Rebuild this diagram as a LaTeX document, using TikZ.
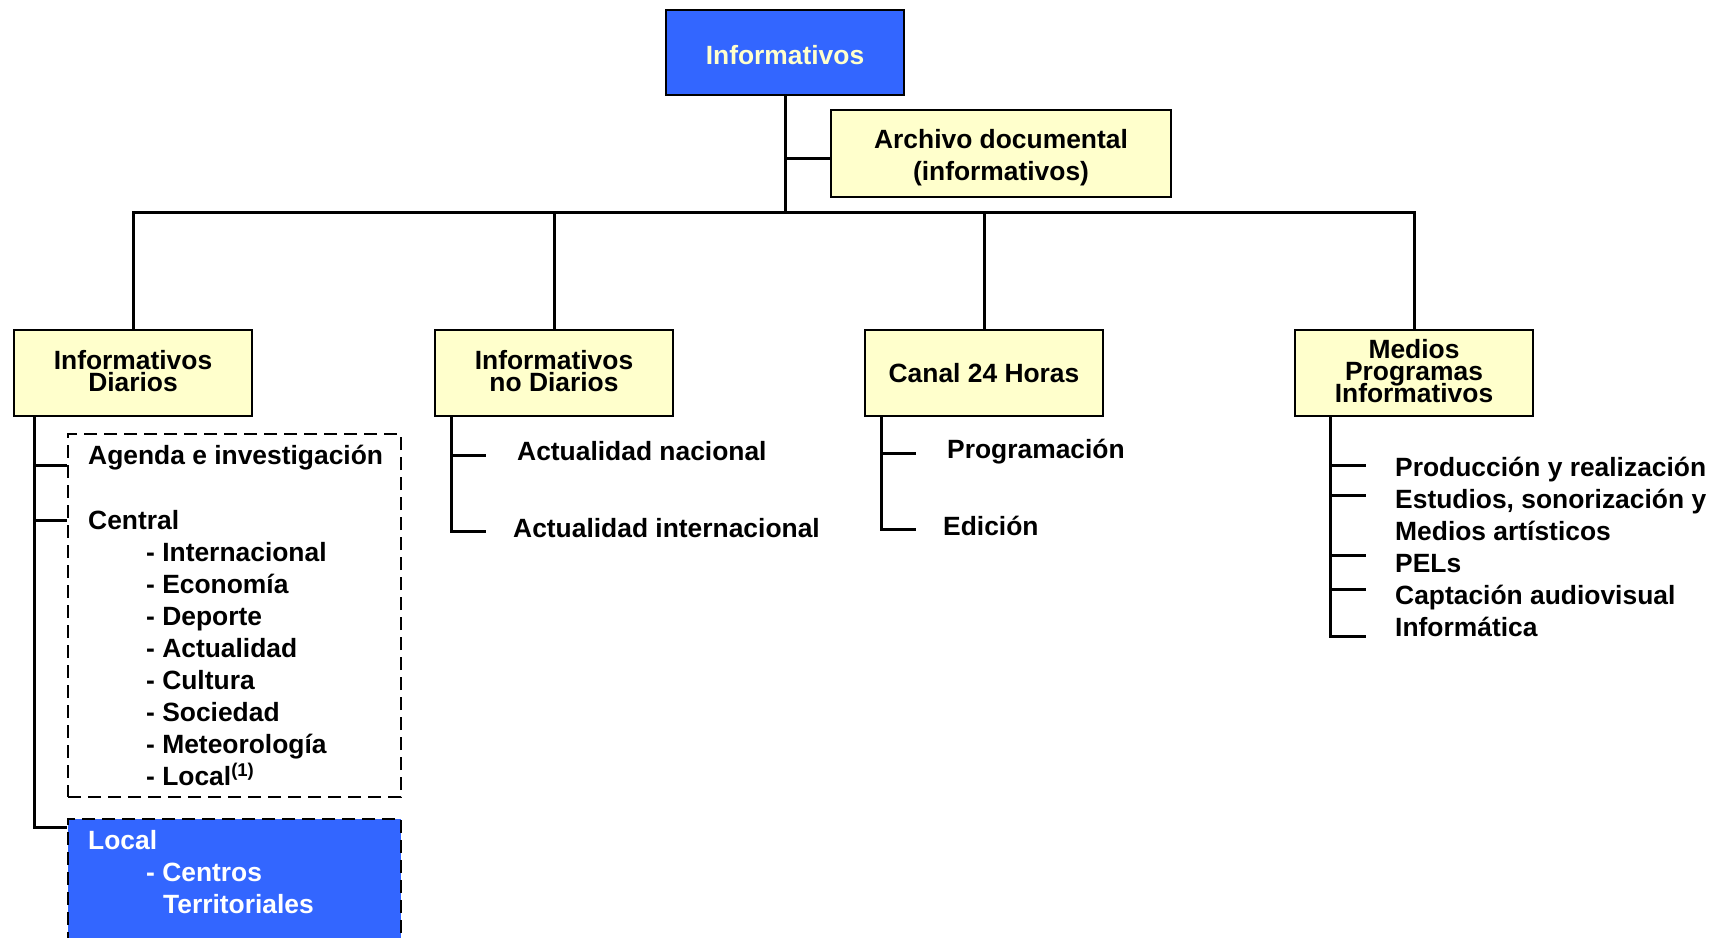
\documentclass[tikz,border=0pt]{standalone}
\usepackage{fontspec}
\setmainfont{Liberation Sans}
\definecolor{boxyellow}{HTML}{FFFFCC}
\definecolor{boxblue}{HTML}{3366FF}
\newcommand{\tightls}{\setlength{\lineskiplimit}{-50pt}}
\newcommand{\dn}{\rule[-4.5pt]{0pt}{4.5pt}}
\begin{document}
\begin{tikzpicture}[x=1pt,y=-1pt,
  conn/.style={line width=3pt},
  box/.style={draw, line width=2.5pt, fill=boxyellow, minimum width=238pt, minimum height=86pt, inner sep=0pt, align=center, font=\fontsize{26.4}{22}\selectfont\bfseries\tightls},
  lbl/.style={anchor=base west, inner sep=0pt, font=\fontsize{26.4}{32}\selectfont\bfseries},
  dbox/.style={draw, dash pattern=on 13pt off 7pt, line width=2.5pt, inner sep=0pt}]
\useasboundingbox (0,0) rectangle (1724,937);
\clip (0,0) rectangle (1724,937);

% top level
\node[box, fill=boxblue, text=boxyellow, minimum height=85pt] (top) at (785,52.5) {\rule{0pt}{24pt}Informativos};
\node[box, minimum width=340pt, minimum height=87pt, font=\fontsize{26.4}{32}\selectfont\bfseries] (arch) at (1001,153.5) {\rule{0pt}{28pt}Archivo documental\\(informativos)};

% level 2
\node[box] (dia) at (133,373) {Informativos\\Diarios\dn};
\node[box] (nodia) at (554,373) {Informativos\\no Diarios\dn};
\node[box] (canal) at (984,373) {Canal 24 Horas};
\node[box] (medios) at (1414,373) {Medios\\Programas\\Informativos\dn};

% trunk and bus
\coordinate (bus) at (785,212);
\draw[conn] (top.south) -- (bus);
\draw[conn] (top.south |- 0,158) -- (arch.west |- 0,158);
\draw[conn] (dia.north) -- (dia.north |- bus) -- (medios.north |- bus) -- (medios.north);
\draw[conn] (nodia.north) -- (nodia.north |- bus);
\draw[conn] (canal.north) -- (canal.north |- bus);

% Informativos Diarios subtree
\node[dbox, minimum width=333pt, minimum height=363pt] (cen) at (234.5,615.5) {};
\node[dbox, fill=boxblue, minimum width=333pt, minimum height=141pt] (locbox) at (234.5,889.5) {};
\coordinate (sp) at (34,416);
\draw[conn] (sp) -- (sp |- 0,827) -- (locbox.west |- 0,827);
\draw[conn] (sp |- 0,465) -- (cen.west |- 0,465);
\draw[conn] (sp |- 0,520) -- (cen.west |- 0,520);

\node[lbl] (agenda) at (88,464.5) {Agenda e investigación};
\node[lbl] (central) at (88,529.5) {Central};
\node[lbl] (i1) at (146,561.5) {- Internacional};
\node[lbl] (i2) at (146,593.5) {- Economía};
\node[lbl] (i3) at (146,625.5) {- Deporte};
\node[lbl] (i4) at (146,657.5) {- Actualidad};
\node[lbl] (i5) at (146,689.5) {- Cultura};
\node[lbl] (i6) at (146,721.5) {- Sociedad};
\node[lbl] (i7) at (146,753.5) {- Meteorología};
\node[lbl] (i8) at (146,785.5) {- Local\textsuperscript{(1)}};

\node[lbl, text=white] (loc) at (88,849.5) {Local};
\node[lbl, text=white] (loc1) at (146,881.5) {- Centros};
\node[lbl, text=white] (loc2) at (163,913.5) {Territoriales};

% Informativos no Diarios subtree
\coordinate (nd) at (451,416);
\draw[conn] (nd) -- (nd |- 0,531) -- (486,531);
\draw[conn] (nd |- 0,455) -- (486,455);
\node[lbl] (an) at (517,460.5) {Actualidad nacional};
\node[lbl] (ai) at (513,537.5) {Actualidad internacional};

% Canal 24 Horas subtree
\coordinate (cd) at (881,416);
\draw[conn] (cd) -- (cd |- 0,529) -- (916,529);
\draw[conn] (cd |- 0,453) -- (916,453);
\node[lbl] (prog) at (947,458.5) {Programación};
\node[lbl] (edi) at (943,535.5) {Edición};

% Medios subtree
\coordinate (md) at (1330,416);
\draw[conn] (md) -- (md |- 0,636) -- (1366,636);
\draw[conn] (md |- 0,465) -- (1366,465);
\draw[conn] (md |- 0,495) -- (1366,495);
\draw[conn] (md |- 0,555) -- (1366,555);
\draw[conn] (md |- 0,589) -- (1366,589);
\node[lbl] (m1) at (1395,476.5) {Producción y realización};
\node[lbl] (m2) at (1395,508.5) {Estudios, sonorización y};
\node[lbl] (m3) at (1395,540.5) {Medios artísticos};
\node[lbl] (m4) at (1395,572.5) {PELs};
\node[lbl] (m5) at (1395,604.5) {Captación audiovisual};
\node[lbl] (m6) at (1395,636.5) {Informática};
\end{tikzpicture}
\end{document}
